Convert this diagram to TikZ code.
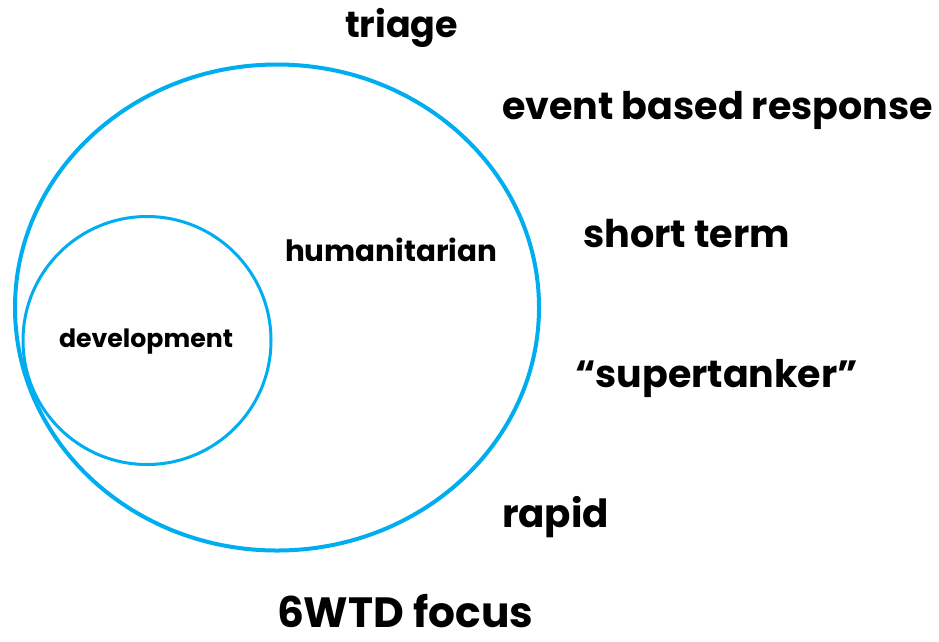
\documentclass[tikz,border=0pt]{standalone}
\usepackage{fontspec}
\setmainfont{Poppins}
\definecolor{ringblue}{HTML}{00AEEF}
\newcommand{\fitw}[2]{\resizebox{#1}{!}{\bfseries #2}}
\begin{document}
\begin{tikzpicture}[x=1pt,y=-1pt,
  ring/.style={draw=ringblue},
  lbl/.style={anchor=base west,inner sep=0pt,outer sep=0pt}]
\useasboundingbox (0,0) rectangle (939,641);
\draw[ring,line width=4pt] (277,307.5) ellipse [x radius=262, y radius=243];
\draw[ring,line width=3pt] (147,340.5) circle [radius=124];
\node[lbl] (triage) at (345,37) {\fitw{113pt}{triage}};
\node[lbl] (event) at (502,119) {\fitw{431pt}{event based response}};
\node[lbl] (short) at (583,247) {\fitw{207pt}{short term}};
\node[lbl] (super) at (575,387) {\fitw{283pt}{“supertanker”}};
\node[lbl] (rapid) at (502,527) {\fitw{107pt}{rapid}};
\node[lbl] (focus) at (277,627) {\fitw{256pt}{6WTD focus}};
\node[lbl] (human) at (285,261) {\fitw{212pt}{humanitarian}};
\node[lbl] (devel) at (59,347) {\fitw{174pt}{development}};
\end{tikzpicture}
\end{document}
